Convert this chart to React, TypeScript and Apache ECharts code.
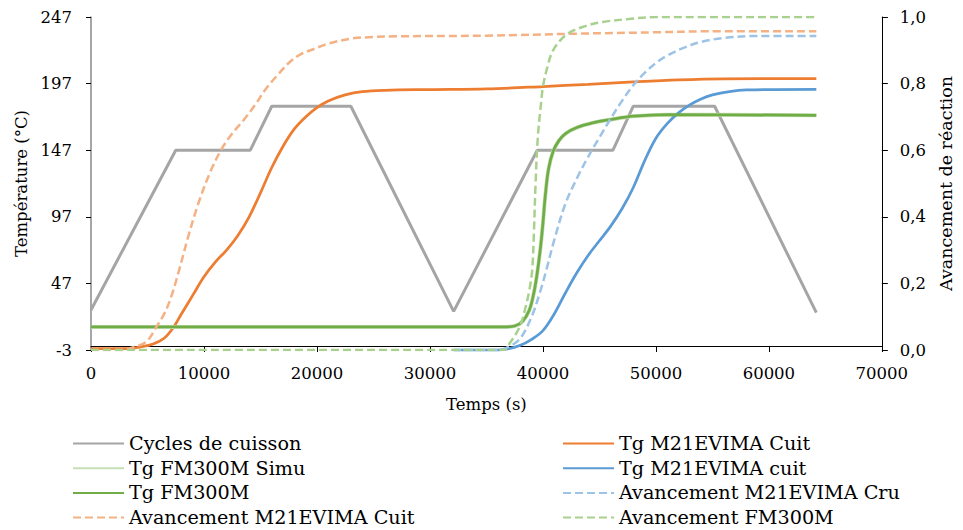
import React, { useEffect, useRef } from "react";
import * as echarts from "echarts";

// ---- Data (time in s) ----
const cycleT = [0, 7500, 14100, 16000, 23000, 32100, 39500, 46200, 48000, 55200, 64200];
const cycleV = [27, 147, 147, 180, 180, 26, 147, 147, 180, 180, 25];

const tgCuitT = [0, 3000, 4500, 5500, 6500, 7300, 8000, 9000, 10000, 11000, 12000, 13000, 14000, 15000, 16000, 17000, 18000, 19000, 20000, 21000, 22500, 24000, 26000, 30000, 35000, 40000, 44000, 48000, 52000, 56000, 64200];
const tgCuitV = [-2, -2, -0.5, 1.5, 6, 14, 24, 38, 52, 63, 72, 83, 97, 115, 134, 150, 163, 172, 179, 184, 188.5, 191, 192, 192.5, 193, 194.8, 196.5, 198.3, 199.8, 200.6, 200.8];

const tgFmT = [0, 36500, 37500, 38200, 38800, 39200, 39500, 39800, 40000, 40200, 40500, 40900, 41400, 42000, 43000, 44400, 46000, 48000, 51000, 64200];
const tgFmV = [14.3, 14.3, 15, 18.5, 27, 40, 55, 75, 92, 112, 133, 146, 154, 159.5, 164, 167.5, 170, 172.5, 173.7, 173.2];

const tgFmSimuT = tgFmT;
const tgFmSimuV = tgFmV;

const tgCruT = [32100, 36000, 37000, 38000, 39000, 40000, 41000, 42000, 43000, 44000, 45000, 46000, 47000, 48000, 49000, 50000, 51000, 52000, 53000, 54000, 55000, 56500, 58000, 64200];
const tgCruV = [-3, -3, -2, 0.5, 5, 11.5, 24, 40, 55, 68, 79, 90, 103, 119, 139, 156, 167, 175, 181, 185.5, 188.5, 191, 192.2, 192.6];

const avCruT = [32100, 36000, 37000, 38000, 39000, 39800, 40300, 41000, 42000, 43000, 44000, 45000, 46000, 47000, 48000, 49000, 50000, 51000, 52500, 54000, 56000, 59000, 64200];
const avCruV = [0, 0, 0.01, 0.035, 0.1, 0.18, 0.24, 0.33, 0.44, 0.515, 0.58, 0.638, 0.695, 0.748, 0.795, 0.832, 0.862, 0.884, 0.908, 0.925, 0.937, 0.943, 0.943];

const avCuitT = [0, 2800, 3700, 4900, 5800, 6500, 7100, 7800, 8600, 9500, 10500, 11500, 12500, 13500, 14500, 15500, 16500, 17500, 18500, 19800, 21000, 23000, 25000, 27000, 35000, 43000, 50000, 54600, 64200];
const avCuitV = [0, 0, 0.008, 0.025, 0.07, 0.11, 0.16, 0.24, 0.34, 0.44, 0.53, 0.6, 0.65, 0.69, 0.735, 0.785, 0.825, 0.862, 0.887, 0.905, 0.92, 0.935, 0.94, 0.942, 0.944, 0.95, 0.954, 0.957, 0.957];

const avFmT = [0, 36500, 37060, 37950, 38400, 38800, 39050, 39200, 39350, 39550, 39800, 40000, 40400, 40900, 42000, 43500, 45300, 47600, 50000, 64200];
const avFmV = [0, 0, 0.02, 0.07, 0.12, 0.18, 0.24, 0.35, 0.5, 0.64, 0.73, 0.79, 0.85, 0.9, 0.945, 0.97, 0.985, 0.994, 1.0, 1.0];

const leftTicks = { min: -3, max: 247, interval: 50 };
const rightTicks = { min: 0, max: 1, interval: 0.2 };
const xTicks = { min: 0, max: 70000, interval: 10000 };

const zip = (t: number[], v: number[]) => t.map((x, i) => [x, v[i]]);

const FONT = "DejaVu Serif";
const TICK_SIZE = 16.5;
const NAME_SIZE = 16.5;
const RIGHT_NAME_SIZE = 17.5;
const LEGEND_SIZE = 19.2;

export default function App() {
  const ref = useRef<HTMLDivElement>(null);
  useEffect(() => {
    const chart = echarts.init(ref.current!, undefined, { renderer: "svg" });
    const dash = [8, 4];
    const smooth = { smooth: 0.35 };
    const legendBase = {
      orient: "vertical",
      top: 432,
      padding: 0,
      itemWidth: 51,
      itemHeight: 12,
      itemGap: 1.7,
      itemStyle: { opacity: 0 },
      textStyle: { fontSize: LEGEND_SIZE, color: "#000", fontFamily: FONT, lineHeight: 23 },
    };
    chart.setOption({
      animation: false,
      backgroundColor: "#ffffff",
      textStyle: { fontFamily: FONT },
      grid: { left: 91, top: 17, right: 75, bottom: 180, containLabel: false },
      xAxis: {
        type: "value",
        ...xTicks,
        name: "Temps (s)",
        nameLocation: "middle",
        nameGap: 46,
        nameTextStyle: { fontSize: NAME_SIZE, color: "#000", fontFamily: FONT },
        axisLine: { onZero: true, onZeroAxisIndex: 0, lineStyle: { color: "#000", width: 1 } },
        axisTick: { show: true, length: 6, lineStyle: { color: "#000" } },
        axisLabel: { fontSize: TICK_SIZE, color: "#000", margin: 15, fontFamily: FONT, formatter: (v: number) => String(v) },
        splitLine: { show: false },
      },
      yAxis: [
        {
          type: "value",
          ...leftTicks,
          position: "left",
          name: "Température (°C)",
          nameLocation: "middle",
          nameRotate: 90,
          nameGap: 58,
          nameTextStyle: { fontSize: NAME_SIZE, color: "#000", fontFamily: FONT },
          axisLine: { show: true, onZero: false, lineStyle: { color: "#898989", width: 1.5 } },
          axisTick: { show: true, length: 5, lineStyle: { color: "#000" } },
          axisLabel: { fontSize: TICK_SIZE, color: "#000", margin: 19, fontFamily: FONT, formatter: (v: number) => String(v) },
          splitLine: { show: false },
        },
        {
          type: "value",
          ...rightTicks,
          position: "right",
          name: "Avancement de réaction",
          nameLocation: "middle",
          nameRotate: 90,
          nameGap: 41,
          nameTextStyle: { fontSize: RIGHT_NAME_SIZE, color: "#000", fontFamily: FONT },
          axisLine: { show: true, onZero: false, lineStyle: { color: "#000", width: 1 } },
          axisTick: { show: true, length: 6, lineStyle: { color: "#000" } },
          axisLabel: {
            fontSize: TICK_SIZE,
            color: "#000",
            margin: 18,
            fontFamily: FONT,
            formatter: (v: number) => v.toFixed(1).replace(".", ","),
          },
          splitLine: { show: false },
        },
      ],
      legend: [
        {
          ...legendBase,
          left: 72,
          data: ["Cycles de cuisson", "Tg FM300M Simu", "Tg FM300M", "Avancement M21EVIMA Cuit"],
        },
        {
          ...legendBase,
          left: 562,
          data: ["Tg M21EVIMA Cuit", "Tg M21EVIMA cuit", "Avancement M21EVIMA Cru", "Avancement FM300M"],
        },
      ],
      series: [
        {
          name: "Cycles de cuisson",
          type: "line",
          yAxisIndex: 0,
          symbol: "none",
          data: zip(cycleT, cycleV),
          lineStyle: { color: "#A5A5A5", width: 3 },
          itemStyle: { color: "#A5A5A5" },
        },
        {
          name: "Tg M21EVIMA Cuit",
          type: "line",
          yAxisIndex: 0,
          symbol: "none",
          ...smooth,
          data: zip(tgCuitT, tgCuitV),
          lineStyle: { color: "#ED7D31", width: 2.75 },
          itemStyle: { color: "#ED7D31" },
        },
        {
          name: "Tg FM300M Simu",
          type: "line",
          yAxisIndex: 0,
          symbol: "none",
          ...smooth,
          data: zip(tgFmSimuT, tgFmSimuV),
          lineStyle: { color: "#C5E0B4", width: 4 },
          itemStyle: { color: "#C5E0B4" },
        },
        {
          name: "Tg M21EVIMA cuit",
          type: "line",
          yAxisIndex: 0,
          symbol: "none",
          ...smooth,
          data: zip(tgCruT, tgCruV),
          lineStyle: { color: "#5B9BD5", width: 2.75 },
          itemStyle: { color: "#5B9BD5" },
        },
        {
          name: "Tg FM300M",
          type: "line",
          yAxisIndex: 0,
          symbol: "none",
          ...smooth,
          data: zip(tgFmT, tgFmV),
          lineStyle: { color: "#70AD47", width: 2.75 },
          itemStyle: { color: "#70AD47" },
        },
        {
          name: "Avancement M21EVIMA Cru",
          type: "line",
          yAxisIndex: 1,
          symbol: "none",
          ...smooth,
          data: zip(avCruT, avCruV),
          lineStyle: { color: "#9DC3E6", width: 2.5, type: dash },
          itemStyle: { color: "#9DC3E6" },
        },
        {
          name: "Avancement M21EVIMA Cuit",
          type: "line",
          yAxisIndex: 1,
          symbol: "none",
          ...smooth,
          data: zip(avCuitT, avCuitV),
          lineStyle: { color: "#F4B183", width: 2.5, type: dash },
          itemStyle: { color: "#F4B183" },
        },
        {
          name: "Avancement FM300M",
          type: "line",
          yAxisIndex: 1,
          symbol: "none",
          ...smooth,
          data: zip(avFmT, avFmV),
          lineStyle: { color: "#A9D18E", width: 2.5, type: dash },
          itemStyle: { color: "#A9D18E" },
        },
      ],
    });
    return () => chart.dispose();
  }, []);
  return (
    <div
      ref={ref}
      style={{ position: "absolute", left: 0, top: 0, width: 963, height: 530, background: "#fff" }}
    />
  );
}
